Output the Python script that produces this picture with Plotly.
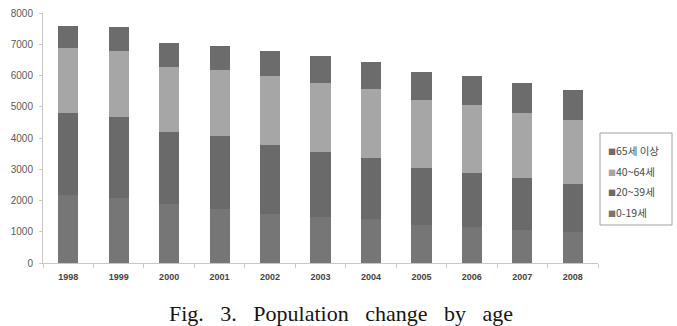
import plotly.graph_objects as go

years = ["1998", "1999", "2000", "2001", "2002", "2003", "2004", "2005", "2006", "2007", "2008"]
age_0_19 = [2180, 2070, 1890, 1730, 1570, 1480, 1400, 1220, 1140, 1060, 1000]
age_20_39 = [2610, 2590, 2290, 2320, 2210, 2080, 1950, 1810, 1750, 1650, 1530]
age_40_64 = [2100, 2130, 2100, 2130, 2210, 2210, 2210, 2190, 2170, 2100, 2050]
age_65_up = [690, 750, 750, 770, 810, 850, 880, 890, 910, 940, 960]

series = [
    ("0-19세", age_0_19, "#767676"),
    ("20~39세", age_20_39, "#6a6a6a"),
    ("40~64세", age_40_64, "#a6a6a6"),
    ("65세 이상", age_65_up, "#6c6c6c"),
]

W, H = 677, 326
ML, MR, MT, MB = 43, 79, 13, 63
PW, PH = W - ML - MR, H - MT - MB


def px(x):
    return (x - ML) / PW


def py(y):
    return (H - MB - y) / PH


fig = go.Figure()
for name, vals, col in series:
    fig.add_trace(go.Bar(x=years, y=vals, name=name,
                         marker=dict(color=col, line=dict(width=0)), showlegend=False))

annotations = [dict(text="Fig.\u00a0\u00a0 3.\u00a0\u00a0 Population\u00a0\u00a0 change\u00a0\u00a0 by\u00a0\u00a0 age",
                    xref="paper", yref="paper", x=px(340.5), y=py(313), xanchor="center", yanchor="middle",
                    showarrow=False,
                    font=dict(family="Liberation Serif", size=22, color="#151515"))]

# legend drawn as text (top item = last series)
item_y = [150.5, 171, 191.5, 212]
for i, (name, vals, col) in enumerate(reversed(series)):
    annotations.append(dict(
        text=f"<span style='font-size:8px;color:{col}'>■</span>{name}",
        xref="paper", yref="paper", x=px(606), y=py(item_y[i]), xanchor="left", yanchor="middle",
        showarrow=False, font=dict(family="Noto Sans CJK KR", size=10.5, color="#4a4a4a")))

fig.update_layout(
    width=W, height=H,
    margin=dict(l=ML, r=MR, t=MT, b=MB, autoexpand=False),
    barmode="stack", bargap=0.6,
    plot_bgcolor="white", paper_bgcolor="white",
    showlegend=False,
    annotations=annotations,
    shapes=[dict(type="rect", xref="paper", yref="paper", x0=px(600), x1=px(672), y0=py(133), y1=py(225),
                 line=dict(color="#a0a0a0", width=1), fillcolor="rgba(0,0,0,0)")],
)
fig.update_yaxes(range=[0, 8000], dtick=1000, showgrid=False, zeroline=False,
                 showline=True, linecolor="#c8c8c8", linewidth=1,
                 ticks="outside", ticklen=3, tickcolor="#c8c8c8", ticklabelstandoff=4,
                 tickfont=dict(family="Liberation Sans", size=10, color="#5a5a5a"))
fig.update_xaxes(showgrid=False, showline=True, linecolor="#c8c8c8", linewidth=1,
                 ticks="outside", ticklen=4, tickcolor="#c8c8c8", tickson="boundaries",
                 ticklabelstandoff=5,
                 tickfont=dict(family="Liberation Sans", size=9, color="#444444", weight="bold"))

fig.write_html("out.html")
